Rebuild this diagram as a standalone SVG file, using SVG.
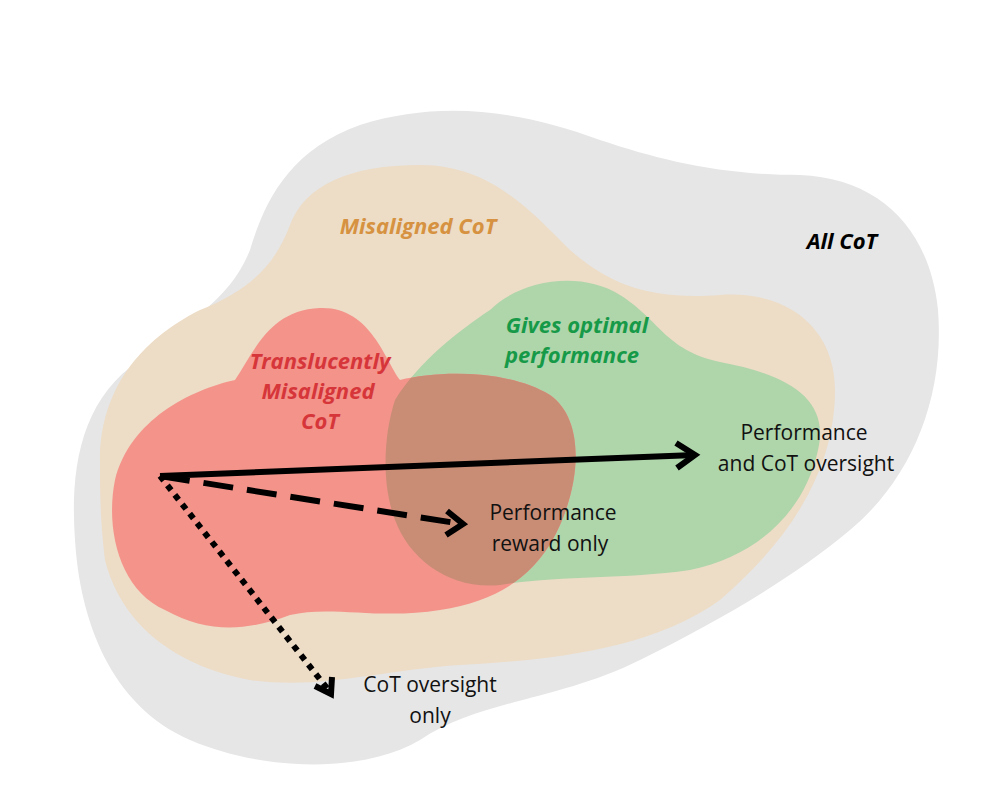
<svg xmlns="http://www.w3.org/2000/svg" width="997" height="797" viewBox="0 0 997 797">
<style>
.lbl{font-family:"Open Sans","Liberation Sans",sans-serif;font-size:21px;fill:#111;text-anchor:middle}
.it{font-family:"Open Sans","Liberation Sans",sans-serif;font-size:22px;font-weight:bold;font-style:italic;text-anchor:middle}
.ar{fill:none;stroke:#000;stroke-width:6}
</style>
<defs>
<path id="red" d="M115,480 C130,420 190,390 235,380 C255,350 270,310 320,308 C370,306 385,360 400,380 C440,370 510,370 550,395 C585,420 580,480 560,525 C540,570 505,600 440,610 C380,620 330,605 290,615 C250,630 210,635 165,610 C120,590 105,530 115,480 Z"/>
<clipPath id="gclip"><path d="M395,400 C420,360 460,330 490,310 C520,280 580,270 620,295 C660,320 665,350 720,362 C790,375 830,400 818,450 C805,510 760,555 690,570 C620,580 560,575 500,585 C450,590 410,560 395,520 C380,480 385,430 395,400 Z"/></clipPath>
</defs>
<g id="all-cot"><path fill="#e6e6e6" d="M75,540 C70,470 80,400 140,360 C190,320 230,300 250,250 C265,200 290,150 360,125 C440,100 520,110 600,140 C660,160 720,175 800,175 C880,178 930,230 938,310 C945,400 910,480 850,530 C790,580 720,620 640,660 C560,700 480,700 420,740 C360,775 260,770 190,740 C110,705 80,620 75,540 Z"/>
<text class="it" x="842" y="249" fill="#000">All CoT</text></g>
<g id="misaligned"><path fill="#eddcc6" d="M100,460 C100,390 140,340 200,310 C250,290 275,265 290,225 C305,185 350,165 420,165 C490,165 530,210 570,250 C610,285 650,300 720,295 C790,290 835,330 835,390 C835,470 790,540 720,600 C650,650 550,660 460,665 C380,670 320,690 250,680 C170,665 120,620 105,560 C100,520 100,490 100,460 Z"/>
<text class="it" x="418" y="234" fill="#d69240">Misaligned CoT</text></g>
<g id="optimal"><path fill="#afd5ab" d="M395,400 C420,360 460,330 490,310 C520,280 580,270 620,295 C660,320 665,350 720,362 C790,375 830,400 818,450 C805,510 760,555 690,570 C620,580 560,575 500,585 C450,590 410,560 395,520 C380,480 385,430 395,400 Z"/>
<text class="it" x="577" y="333" fill="#169a48">Gives optimal</text>
<text class="it" x="572" y="363" fill="#169a48">performance</text></g>
<g id="translucent"><use href="#red" fill="#f4938a"/>
<use href="#red" fill="#c98d76" clip-path="url(#gclip)"/>
<text class="it" x="320" y="369" fill="#d6363a">Translucently</text>
<text class="it" x="318" y="399" fill="#d6363a">Misaligned</text>
<text class="it" x="320" y="429" fill="#d6363a">CoT</text></g>
<g id="connectors">
<path class="ar" d="M160,476 L695,455"/>
<path class="ar" d="M676,443 L695,455 L677,468"/>
<path class="ar" d="M160,476 L462,524" stroke-dasharray="30,14"/>
<path class="ar" d="M447,511 L463,524 L446,535"/>
<path class="ar" d="M160,476 L330,692" stroke-dasharray="6,6"/>
<path class="ar" d="M315,686 L331,694 L332,677"/>
</g>
<g id="labels">
<text class="lbl" x="804" y="440">Performance</text>
<text class="lbl" x="806" y="471">and CoT oversight</text>
<text class="lbl" x="553" y="520">Performance</text>
<text class="lbl" x="550" y="551">reward only</text>
<text class="lbl" x="430" y="692">CoT oversight</text>
<text class="lbl" x="430" y="723">only</text>
</g>
</svg>
